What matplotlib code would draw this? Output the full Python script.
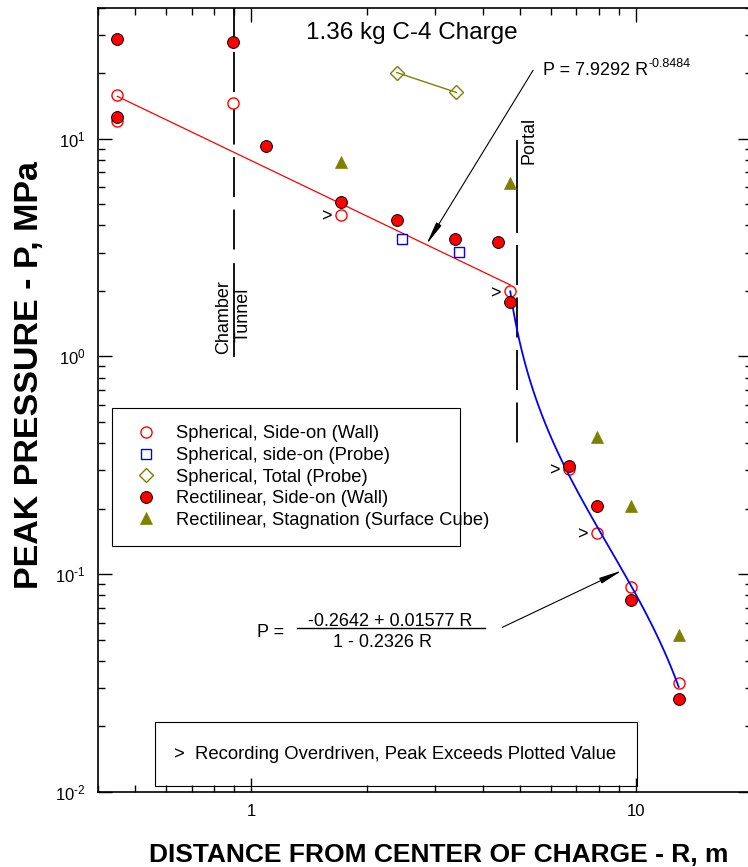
import numpy as np
import matplotlib
matplotlib.use("Agg")
import matplotlib.pyplot as plt
import matplotlib.ticker as mticker
from matplotlib.patches import Rectangle

plt.rcParams["font.family"] = ["Liberation Sans", "DejaVu Sans"]
plt.rcParams["mathtext.fontset"] = "custom"
plt.rcParams["mathtext.rm"] = "Liberation Sans"
plt.rcParams["mathtext.default"] = "regular"
plt.rcParams["axes.unicode_minus"] = False
plt.rcParams["lines.scale_dashes"] = False

# spherical charge, side-on gauges in the wall
sph_wall_R = [0.449, 0.449, 0.898, 1.71, 4.71, 6.70, 7.92, 9.70, 12.9]
sph_wall_P = [15.8, 12.1, 14.5, 4.46, 1.99, 0.305, 0.155, 0.087, 0.0315]
# spherical charge, side-on probes
sph_probe_R = [2.47, 3.47]
sph_probe_P = [3.46, 3.02]
# spherical charge, total pressure probes
sph_total_R = [2.39, 3.41]
sph_total_P = [20.1, 16.3]
# rectilinear charge, side-on gauges in the wall
rect_wall_R = [0.449, 0.449, 0.898, 1.09, 1.71, 2.39, 3.39, 4.38, 4.71,
               6.70, 7.92, 9.70, 12.9]
rect_wall_P = [28.6, 12.6, 27.7, 9.29, 5.12, 4.23, 3.46, 3.35, 1.77,
               0.314, 0.206, 0.076, 0.0268]
# rectilinear charge, stagnation (surface cube)
rect_stag_R = [1.71, 4.71, 7.92, 9.70, 12.9]
rect_stag_P = [7.83, 6.27, 0.428, 0.206, 0.0524]
# gauges whose recording was overdriven
over_R = [1.71, 4.71, 6.70, 7.92]
over_P = [4.46, 1.99, 0.305, 0.155]

# curve fits
pow_a, pow_b = 7.9292, -0.8484
rat_a, rat_b, rat_c = -0.2642, 0.01577, -0.2326
R_chamber = 0.9
R_portal = 4.9

FS = 13


def power_fit(r):
    return pow_a * r ** pow_b


def rational_fit(r):
    return (rat_a + rat_b * r) / (1 + rat_c * r)


def decade_label(v, pos):
    e = int(round(np.log10(v)))
    s = str(e).replace("-", r"\text{-}")
    return r"$10^{%s}$" % s


fig = plt.figure(figsize=(7.48, 8.67), dpi=100)
ax = fig.add_axes([98 / 748, 75 / 867, 654 / 748, 784.5 / 867])
ax.set_xscale("log")
ax.set_yscale("log")
ax.set_xlim(0.4, 20)
ax.set_ylim(0.01, 40)

# chamber / tunnel boundary and portal
ax.plot([R_chamber, R_chamber], [40, 3.05], color="black", lw=1.3,
        linestyle=(6.1, (28.8, 9.0)), zorder=1)
ax.plot([R_chamber, R_chamber], [2.65, 1.0], color="black", lw=1.3, zorder=1)
ax.plot([R_portal, R_portal], [9.8, 3.73], color="black", lw=1.3, zorder=1)
ax.plot([R_portal, R_portal], [3.25, 0.40], color="black", lw=1.3,
        linestyle=(0, (28.8, 9.0)), zorder=1)
ax.text(0.846, 1.51, "Chamber", rotation=90, ha="center", va="center",
        fontsize=FS)
ax.text(0.955, 1.545, "Tunnel", rotation=90, ha="center", va="center",
        fontsize=FS)
ax.text(5.26, 9.77, "Portal", rotation=90, ha="center", va="center",
        fontsize=FS)

ax.plot(sph_wall_R, sph_wall_P, "o", ms=8, mfc="white", mec="red", mew=1,
        label="Spherical, Side-on (Wall)", zorder=2)

r1 = np.geomspace(min(sph_wall_R), 4.71, 50)
ax.plot(r1, power_fit(r1), color="red", lw=0.9, zorder=3)
r2 = np.geomspace(4.71, max(sph_wall_R), 100)
ax.plot(r2, rational_fit(r2), color="blue", lw=1.3, zorder=3)

ax.plot(sph_probe_R, sph_probe_P, "s", ms=7, mfc="white", mec="blue",
        mew=1, label="Spherical, side-on (Probe)", zorder=4)
ax.plot(sph_total_R, sph_total_P, "-", color="#808000", lw=1, zorder=3)
ax.plot(sph_total_R, sph_total_P, "D", ms=7.5, mfc="none", mec="#808000",
        mew=1, label="Spherical, Total (Probe)", zorder=4)
ax.plot(rect_wall_R, rect_wall_P, "o", ms=8.5, mfc="red", mec="black",
        mew=0.7, label="Rectilinear, Side-on (Wall)", zorder=5)
ax.plot(rect_stag_R, rect_stag_P, "^", ms=9, mfc="#808000", mec="#808000",
        mew=0.5, label="Rectilinear, Stagnation (Surface Cube)", zorder=5)

for r, p in zip(over_R, over_P):
    ax.annotate(">", (r, p), xytext=(-10.5, -1.5), textcoords="offset points",
                ha="center", va="center", fontsize=FS)

# fit equations with pointers
arrow = dict(arrowstyle="-|>,head_length=1.4,head_width=0.18",
             color="black", lw=0.8, shrinkA=0, shrinkB=0)
eq1 = ax.text(5.73, 20.6, "P = 7.9292 R", ha="left", va="center",
              fontsize=FS)
ax.annotate("-0.8484", xy=(1, 0.85), xycoords=eq1, ha="left",
            va="center", fontsize=9)
ax.annotate("", xy=(2.85, power_fit(2.85)), xytext=(5.40, 20.6),
            arrowprops=arrow)
ax.text(1.12, 0.054, "P =", ha="center", va="center", fontsize=FS)
ax.text(2.30, 0.0607, "-0.2642 + 0.01577 R", ha="center", va="center",
        fontsize=FS)
ax.plot([1.317, 4.05], [0.0564, 0.0564], color="black", lw=1)
ax.text(2.20, 0.0484, "1 - 0.2326 R", ha="center", va="center", fontsize=FS)
ax.annotate("", xy=(9.21, rational_fit(9.21)), xytext=(4.49, 0.057),
            arrowprops=arrow)

ax.text(0.480, 0.9675, "1.36 kg C-4 Charge", transform=ax.transAxes,
        ha="center", va="center", fontsize=17.5)

leg = ax.legend(loc="upper left", bbox_to_anchor=(0.0214, 0.3123, 0.532, 0.1772),
                mode="expand", fontsize=13.2, frameon=True, fancybox=False,
                edgecolor="black", framealpha=1, borderpad=0.95,
                labelspacing=0.25, handlelength=1.8, handletextpad=0.72,
                borderaxespad=0)
leg.get_frame().set_linewidth(0.8)

ax.add_patch(Rectangle((0.0872, 0.00765), 0.7368, 0.0816,
                       transform=ax.transAxes, fill=False, ec="black",
                       lw=0.8, zorder=6))
ax.text(0.1162, 0.0472, ">  Recording Overdriven, Peak Exceeds Plotted Value",
        transform=ax.transAxes, ha="left", va="center", fontsize=13.3)

# axes and ticks
ax.xaxis.set_major_locator(mticker.FixedLocator([1, 10]))
ax.xaxis.set_major_formatter(mticker.FixedFormatter(["1", "10"]))
ax.xaxis.set_minor_locator(mticker.LogLocator(subs=np.arange(2, 10)))
ax.xaxis.set_minor_formatter(mticker.NullFormatter())
ax.yaxis.set_major_locator(mticker.LogLocator(numticks=10))
ax.yaxis.set_major_formatter(mticker.FuncFormatter(decade_label))
ax.yaxis.set_minor_locator(mticker.LogLocator(subs=np.arange(2, 10),
                                              numticks=20))
ax.yaxis.set_minor_formatter(mticker.NullFormatter())
ax.tick_params(which="both", direction="in", top=True, right=True,
               labelsize=12, width=1)
ax.tick_params(which="major", length=10)
ax.tick_params(which="minor", length=5)
ax.tick_params(axis="x", pad=9)
ax.tick_params(axis="y", pad=9)
for s in ax.spines.values():
    s.set_linewidth(1.2)

ax.set_xlabel("DISTANCE FROM CENTER OF CHARGE - R, m", fontsize=19,
              fontweight="bold")
ax.xaxis.set_label_coords(0.521, -0.0803)
ax.xaxis.label.set_va("center")
ax.set_ylabel("PEAK PRESSURE - P, MPa", fontsize=24.5, fontweight="bold")
ax.yaxis.set_label_coords(-0.104, 0.5316)
ax.yaxis.label.set_va("center")

fig.savefig("out.png", dpi=100)
